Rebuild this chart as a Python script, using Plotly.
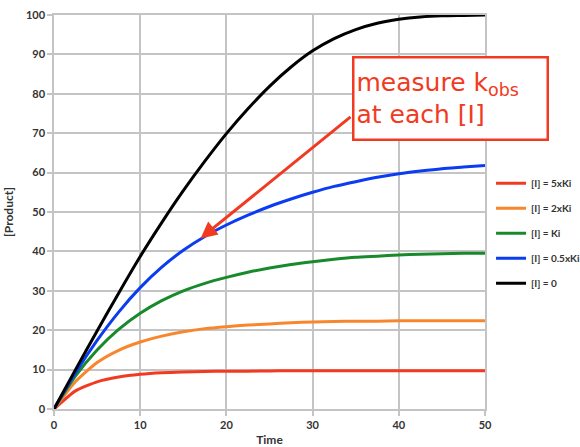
import plotly.graph_objects as go

time = [0, 2.5, 5, 7.5, 10, 12.5, 15, 17.5, 20, 22.5, 25, 27.5, 30, 32.5, 35, 37.5, 40, 42.5, 45, 47.5, 50]
i_5xKi = [0, 4.6, 6.9, 8.1, 8.8, 9.2, 9.4, 9.5, 9.6, 9.6, 9.65, 9.7, 9.7, 9.7, 9.7, 9.7, 9.7, 9.7, 9.7, 9.7, 9.7]
i_2xKi = [0, 7.0, 11.8, 14.9, 17.0, 18.5, 19.6, 20.4, 20.9, 21.3, 21.6, 21.9, 22.1, 22.2, 22.3, 22.3, 22.4, 22.4, 22.4, 22.4, 22.4]
i_Ki = [0, 8.4, 15.0, 20.2, 24.3, 27.5, 30.0, 31.9, 33.4, 34.7, 35.8, 36.7, 37.4, 38.0, 38.5, 38.8, 39.1, 39.3, 39.4, 39.5, 39.5]
i_05xKi = [0, 9.2, 17.4, 24.6, 30.8, 36.0, 40.3, 43.8, 46.7, 49.2, 51.4, 53.3, 55.0, 56.5, 57.7, 58.8, 59.7, 60.4, 61.0, 61.4, 61.8]
i_0 = [0, 10.0, 19.8, 29.4, 38.7, 47.3, 55.4, 62.9, 69.9, 76.2, 81.9, 86.8, 90.9, 94.0, 96.3, 97.9, 98.9, 99.5, 99.8, 99.9, 100.0]

series_names = ["[I] = 5xKi", "[I] = 2xKi", "[I] = Ki", "[I] = 0.5xKi", "[I] = 0"]
series_values = [i_5xKi, i_2xKi, i_Ki, i_05xKi, i_0]
series_colors = ["#f23a22", "#f8862c", "#188a2c", "#0b3cf2", "#000000"]

x_ticks = [0, 10, 20, 30, 40, 50]
y_ticks = [0, 10, 20, 30, 40, 50, 60, 70, 80, 90, 100]

fig = go.Figure()
for name, vals, col in zip(series_names, series_values, series_colors):
    fig.add_trace(go.Scatter(
        x=time, y=vals, name=name, mode="lines",
        line=dict(color=col, width=3, shape="spline", smoothing=0.6),
        legendgroup=name,
    ))

grid = "#c4c4c4"
fam = "Lato, Open Sans, sans-serif"
tickfont = dict(family=fam, size=11, color="#333333", weight="bold")

fig.update_layout(
    width=580, height=447,
    margin=dict(l=54, r=95, t=15, b=38, autoexpand=False),
    paper_bgcolor="white", plot_bgcolor="white",
    showlegend=True,
    legend=dict(
        x=1.014, y=0.610, xanchor="left", yanchor="top", xref="paper",
        font=dict(family=fam, size=10, color="#333333", weight="bold"),
        tracegroupgap=6, bgcolor="rgba(0,0,0,0)",
    ),
    xaxis=dict(
        range=[0, 50], tickvals=x_ticks, ticktext=[str(v) for v in x_ticks],
        showgrid=True, gridcolor=grid, gridwidth=1.5,
        showline=True, linecolor=grid, linewidth=1.5, mirror=True,
        ticks="outside", ticklen=5, tickcolor=grid, tickwidth=1.5,
        tickfont=tickfont, zeroline=False, automargin=False,
        title=dict(text="Time", font=dict(family=fam, size=12, color="#333333", weight="bold"), standoff=6),
    ),
    yaxis=dict(
        range=[0, 100], tickvals=y_ticks, ticktext=[str(v) for v in y_ticks],
        showgrid=True, gridcolor=grid, gridwidth=1.5,
        showline=True, linecolor=grid, linewidth=1.5, mirror=True,
        ticks="outside", ticklen=5, tickcolor=grid, tickwidth=1.5,
        tickfont=tickfont, zeroline=False, automargin=False,
        title=dict(text="[Product]", font=dict(family=fam, size=12, color="#333333", weight="bold"), standoff=10),
    ),
)

# callout box
fig.add_annotation(
    xref="paper", yref="paper", x=0.919, y=0.788, xanchor="center", yanchor="middle",
    text="measure k<sub>obs</sub><br>at each [I]",
    showarrow=False, align="left", width=188, height=76,
    font=dict(family="Comic Sans MS, DejaVu Sans, sans-serif", size=25, color="#f23a22"),
    bgcolor="white", bordercolor="#f23a22", borderwidth=2.5, borderpad=2,
)
# arrow pointing to the blue curve
fig.add_annotation(
    x=17, y=43.3, xref="x", yref="y", text=" ",
    showarrow=True, arrowhead=2, arrowsize=1.1, arrowwidth=3, arrowcolor="#f23a22",
    ax=153, ay=-124,
)

fig.write_html("out.html", config={"displayModeBar": False},
               post_script="document.body.style.margin='0';")
